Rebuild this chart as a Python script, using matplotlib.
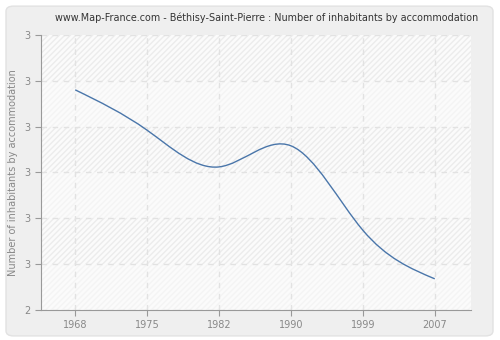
import numpy as np
import matplotlib
matplotlib.use("Agg")
import matplotlib.pyplot as plt
from matplotlib.path import Path
from matplotlib.patches import PathPatch, FancyBboxPatch

# Données
years = ["1968", "1975", "1982", "1990", "1999", "2007"]
values = [2.88, 2.792, 2.712, 2.758, 2.574, 2.468]
ytick_values = [2.4, 2.5, 2.6, 2.7, 2.8, 2.9, 3.0]
ytick_labels = ["2", "3", "3", "3", "3", "3", "3"]

title = "www.Map-France.com - Béthisy-Saint-Pierre : Number of inhabitants by accommodation"
ylabel = "Number of inhabitants by accommodation"

# Spline naturelle -> segments de Bézier (tracés par matplotlib)
def spline_path(y):
    y = np.asarray(y, dtype=float)
    n = len(y)
    x = np.arange(n, dtype=float)
    A = np.zeros((n, n))
    b = np.zeros(n)
    A[0, 0] = 1
    A[-1, -1] = 1
    for i in range(1, n - 1):
        A[i, i - 1] = 1
        A[i, i] = 4
        A[i, i + 1] = 1
        b[i] = 6 * (y[i + 1] - 2 * y[i] + y[i - 1])
    M = np.linalg.solve(A, b)
    d = np.zeros(n)
    for i in range(n - 1):
        d[i] = (y[i + 1] - y[i]) - (2 * M[i] + M[i + 1]) / 6
    d[-1] = (y[-1] - y[-2]) + (M[-2] + 2 * M[-1]) / 6
    verts = [(x[0], y[0])]
    codes = [Path.MOVETO]
    for i in range(n - 1):
        verts += [(x[i] + 1 / 3, y[i] + d[i] / 3),
                  (x[i + 1] - 1 / 3, y[i + 1] - d[i + 1] / 3),
                  (x[i + 1], y[i + 1])]
        codes += [Path.CURVE4] * 3
    return Path(verts, codes)

fig = plt.figure(figsize=(5, 3.4), dpi=100)
fig.patch.set_facecolor("white")
fig.patches.append(FancyBboxPatch((0.012, 0.012), 0.974, 0.97,
                                  boxstyle="round,pad=0,rounding_size=0.015",
                                  transform=fig.transFigure, facecolor="#efefef",
                                  edgecolor="#e2e2e2", linewidth=1, zorder=0))

ax = fig.add_axes([0.0814, 0.0882, 0.86, 0.8094])
ax.set_zorder(2)
ax.set_facecolor("#fbfbfb")
ax.set_xlim(-0.48, 5.5)
ax.set_ylim(ytick_values[0], ytick_values[-1])

# bandes hachurées alternées
for i in range(len(ytick_values) - 1):
    strong = (len(ytick_values) - 2 - i) % 2 == 0
    ax.axhspan(ytick_values[i], ytick_values[i + 1], facecolor="none",
               edgecolor="#ececec" if strong else "#f4f4f4",
               hatch="//////", linewidth=0, zorder=0)

ax.grid(True, color="#e2e2e2", linestyle=(0, (4, 4)), linewidth=1)
ax.set_axisbelow(True)

ax.add_patch(PathPatch(spline_path(values), facecolor="none",
                       edgecolor="#4a76aa", linewidth=1.0, zorder=3))

ax.set_xticks(range(len(years)))
ax.set_xticklabels(years)
ax.set_yticks(ytick_values)
ax.set_yticklabels(ytick_labels)

for side in ["top", "right"]:
    ax.spines[side].set_visible(False)
for side in ["left", "bottom"]:
    ax.spines[side].set_color("#999999")
ax.tick_params(colors="#999999", labelcolor="#888888", labelsize=7, length=4)

ax.set_ylabel(ylabel, color="#888888", fontsize=7, labelpad=4)
fig.text(0.534, 0.947, title, ha="center", va="center", fontsize=6.9, color="#333333")

fig.savefig("out.png", dpi=100)
